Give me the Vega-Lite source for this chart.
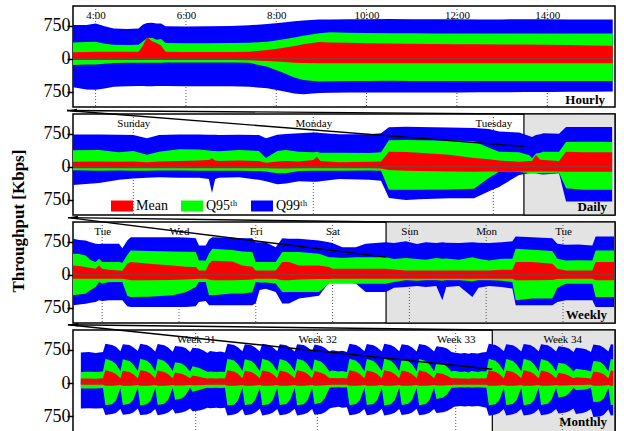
{
"$schema": "https://vega.github.io/schema/vega-lite/v6.json",
"padding": {"left": 10, "top": 4, "right": 5, "bottom": 0},
"title": {"text": "Throughput [Kbps]", "orient": "left", "anchor": "middle", "font": "Liberation Serif", "fontSize": 17, "fontWeight": "bold", "color": "#000", "offset": 14},
"spacing": 7,
"bounds": "flush",
"resolve": {"scale": {"color": "independent"}},
"config": {
  "font": "Liberation Serif",
  "view": {"stroke": "#000", "strokeWidth": 1.5},
  "title": {"font": "Liberation Serif", "fontSize": 13, "fontWeight": "bold", "color": "#000"},
  "axisX": {"ticks": false, "domain": false, "grid": false, "labelFont": "Liberation Serif", "labelFontSize": 11, "labelPadding": -12, "labelBaseline": "alphabetic", "labelColor": "#000", "labelFlush": false, "labelOverlap": false},
  "axisY": {"ticks": true, "tickSize": 6, "tickWidth": 1.5, "tickColor": "#000", "domain": false, "grid": false, "labelFont": "Liberation Serif", "labelFontSize": 18, "labelColor": "#000", "labelPadding": -3, "labelFlush": false},
  "legend": {"labelFont": "Liberation Serif", "labelFontSize": 14, "labelColor": "#000"}
},
"datasets": {
"g1": [{"t":4},{"t":6},{"t":8},{"t":10},{"t":12},{"t":14}],
"g2": [{"t":0},{"t":1},{"t":2}],
"g3": [{"t":0},{"t":1},{"t":2},{"t":3},{"t":4},{"t":5},{"t":6}],
"g4": [{"t":7.04},{"t":14.02},{"t":21.96},{"t":28.07}],
"p1": [
{"t":3.5,"b":765,"g":370,"r":145,"rd":-30,"gd":-143,"bd":-649},
{"t":3.8,"b":770,"g":380,"r":155,"rd":-30,"gd":-135,"bd":-700},
{"t":4.0,"b":800,"g":386,"r":160,"rd":-30,"gd":-130,"bd":-710},
{"t":4.2,"b":740,"g":340,"r":160,"rd":-30,"gd":-115,"bd":-680},
{"t":4.4,"b":690,"g":320,"r":158,"rd":-30,"gd":-100,"bd":-640},
{"t":4.7,"b":675,"g":311,"r":160,"rd":-30,"gd":-95,"bd":-625},
{"t":4.95,"b":690,"g":315,"r":160,"rd":-30,"gd":-90,"bd":-620},
{"t":5.05,"b":780,"g":400,"r":300,"rd":-30,"gd":-90,"bd":-620},
{"t":5.14,"b":815,"g":470,"r":486,"rd":-30,"gd":-90,"bd":-625},
{"t":5.25,"b":820,"g":477,"r":400,"rd":-30,"gd":-90,"bd":-625},
{"t":5.35,"b":800,"g":430,"r":360,"rd":-30,"gd":-90,"bd":-620},
{"t":5.45,"b":800,"g":450,"r":300,"rd":-30,"gd":-90,"bd":-620},
{"t":5.55,"b":740,"g":355,"r":160,"rd":-30,"gd":-88,"bd":-620},
{"t":6.0,"b":735,"g":350,"r":150,"rd":-30,"gd":-85,"bd":-625},
{"t":6.5,"b":738,"g":350,"r":150,"rd":-30,"gd":-85,"bd":-625},
{"t":7.0,"b":745,"g":355,"r":150,"rd":-32,"gd":-85,"bd":-625},
{"t":7.4,"b":760,"g":365,"r":160,"rd":-38,"gd":-95,"bd":-640},
{"t":7.8,"b":790,"g":386,"r":197,"rd":-50,"gd":-181,"bd":-672},
{"t":8.1,"b":820,"g":430,"r":240,"rd":-70,"gd":-300,"bd":-730},
{"t":8.4,"b":850,"g":480,"r":290,"rd":-90,"gd":-430,"bd":-790},
{"t":8.6,"b":870,"g":520,"r":330,"rd":-100,"gd":-483,"bd":-808},
{"t":8.95,"b":890,"g":577,"r":380,"rd":-104,"gd":-522,"bd":-780},
{"t":9.2,"b":895,"g":600,"r":370,"rd":-104,"gd":-515,"bd":-775},
{"t":9.6,"b":900,"g":590,"r":365,"rd":-104,"gd":-506,"bd":-772},
{"t":10.0,"b":900,"g":585,"r":350,"rd":-104,"gd":-506,"bd":-772},
{"t":10.5,"b":905,"g":580,"r":345,"rd":-104,"gd":-505,"bd":-770},
{"t":11.0,"b":900,"g":578,"r":340,"rd":-104,"gd":-506,"bd":-770},
{"t":11.5,"b":900,"g":575,"r":335,"rd":-104,"gd":-506,"bd":-768},
{"t":12.0,"b":900,"g":575,"r":330,"rd":-104,"gd":-506,"bd":-768},
{"t":12.5,"b":895,"g":575,"r":328,"rd":-104,"gd":-506,"bd":-765},
{"t":13.0,"b":895,"g":575,"r":325,"rd":-104,"gd":-506,"bd":-765},
{"t":13.5,"b":898,"g":575,"r":322,"rd":-104,"gd":-506,"bd":-760},
{"t":14.0,"b":900,"g":575,"r":320,"rd":-104,"gd":-506,"bd":-760},
{"t":14.5,"b":895,"g":575,"r":310,"rd":-104,"gd":-506,"bd":-755},
{"t":15.0,"b":890,"g":575,"r":300,"rd":-104,"gd":-506,"bd":-750},
{"t":15.45,"b":890,"g":575,"r":295,"rd":-104,"gd":-506,"bd":-749}
],
"p2": [
{"t":-0.335,"b":735,"g":377,"r":113,"rd":-36,"gd":-80,"bd":-414},
{"t":-0.19,"b":735,"g":380,"r":120,"rd":-36,"gd":-90,"bd":-370},
{"t":-0.08,"b":730,"g":330,"r":110,"rd":-36,"gd":-85,"bd":-300},
{"t":0.0,"b":720,"g":360,"r":120,"rd":-36,"gd":-90,"bd":-270},
{"t":0.076,"b":650,"g":270,"r":100,"rd":-36,"gd":-95,"bd":-250},
{"t":0.143,"b":720,"g":340,"r":120,"rd":-36,"gd":-85,"bd":-240},
{"t":0.254,"b":735,"g":400,"r":130,"rd":-36,"gd":-85,"bd":-250},
{"t":0.365,"b":735,"g":390,"r":140,"rd":-36,"gd":-90,"bd":-250},
{"t":0.42,"b":730,"g":370,"r":150,"rd":-36,"gd":-95,"bd":-280},
{"t":0.437,"b":725,"g":360,"r":190,"rd":-36,"gd":-95,"bd":-600},
{"t":0.455,"b":725,"g":360,"r":140,"rd":-36,"gd":-95,"bd":-280},
{"t":0.476,"b":720,"g":350,"r":130,"rd":-36,"gd":-95,"bd":-250},
{"t":0.587,"b":730,"g":380,"r":140,"rd":-36,"gd":-90,"bd":-240},
{"t":0.698,"b":720,"g":360,"r":130,"rd":-36,"gd":-100,"bd":-300},
{"t":0.737,"b":650,"g":200,"r":90,"rd":-36,"gd":-110,"bd":-330},
{"t":0.8,"b":730,"g":360,"r":120,"rd":-40,"gd":-150,"bd":-400},
{"t":0.848,"b":745,"g":380,"r":130,"rd":-40,"gd":-150,"bd":-380},
{"t":0.92,"b":760,"g":340,"r":120,"rd":-36,"gd":-100,"bd":-330},
{"t":1.0,"b":780,"g":330,"r":150,"rd":-36,"gd":-90,"bd":-340},
{"t":1.02,"b":780,"g":340,"r":226,"rd":-36,"gd":-90,"bd":-340},
{"t":1.04,"b":770,"g":320,"r":130,"rd":-36,"gd":-90,"bd":-330},
{"t":1.143,"b":740,"g":320,"r":100,"rd":-36,"gd":-90,"bd":-280},
{"t":1.31,"b":740,"g":310,"r":110,"rd":-36,"gd":-85,"bd":-300},
{"t":1.376,"b":760,"g":330,"r":120,"rd":-40,"gd":-90,"bd":-320},
{"t":1.42,"b":900,"g":600,"r":339,"rd":-75,"gd":-527,"bd":-715},
{"t":1.515,"b":910,"g":610,"r":335,"rd":-90,"gd":-527,"bd":-760},
{"t":1.587,"b":905,"g":605,"r":320,"rd":-100,"gd":-527,"bd":-740},
{"t":1.754,"b":895,"g":595,"r":270,"rd":-110,"gd":-520,"bd":-720},
{"t":1.893,"b":880,"g":580,"r":200,"rd":-113,"gd":-500,"bd":-720},
{"t":1.976,"b":860,"g":430,"r":170,"rd":-110,"gd":-250,"bd":-560},
{"t":2.032,"b":800,"g":339,"r":140,"rd":-113,"gd":-113,"bd":-460},
{"t":2.143,"b":780,"g":330,"r":113,"rd":-113,"gd":-120,"bd":-190},
{"t":2.2,"b":700,"g":260,"r":130,"rd":-110,"gd":-150,"bd":-150},
{"t":2.215,"b":678,"g":190,"r":130,"rd":-110,"gd":-150,"bd":-150},
{"t":2.237,"b":720,"g":300,"r":264,"rd":-110,"gd":-150,"bd":-150},
{"t":2.26,"b":740,"g":320,"r":160,"rd":-110,"gd":-150,"bd":-170},
{"t":2.28,"b":760,"g":340,"r":150,"rd":-110,"gd":-150,"bd":-180},
{"t":2.365,"b":750,"g":339,"r":130,"rd":-110,"gd":-140,"bd":-150},
{"t":2.404,"b":904,"g":565,"r":339,"rd":-113,"gd":-489,"bd":-790},
{"t":2.5,"b":905,"g":570,"r":330,"rd":-113,"gd":-527,"bd":-790},
{"t":2.587,"b":905,"g":570,"r":330,"rd":-113,"gd":-527,"bd":-790},
{"t":2.66,"b":905,"g":565,"r":330,"rd":-113,"gd":-527,"bd":-790}
],
"p3": [
{"t":-0.38,"b":818,"g":476,"r":211,"rd":-90,"gd":-468,"bd":-695},
{"t":-0.3,"b":790,"g":470,"r":200,"rd":-90,"gd":-450,"bd":-680},
{"t":-0.215,"b":779,"g":438,"r":173,"rd":-90,"gd":-431,"bd":-660},
{"t":-0.15,"b":740,"g":330,"r":150,"rd":-90,"gd":-350,"bd":-640},
{"t":-0.085,"b":703,"g":287,"r":135,"rd":-90,"gd":-280,"bd":-620},
{"t":-0.041,"b":700,"g":362,"r":211,"rd":-90,"gd":-166,"bd":-583},
{"t":0.0,"b":703,"g":290,"r":135,"rd":-90,"gd":-200,"bd":-600},
{"t":0.089,"b":703,"g":287,"r":110,"rd":-90,"gd":-166,"bd":-583},
{"t":0.219,"b":703,"g":287,"r":98,"rd":-90,"gd":-166,"bd":-583},
{"t":0.262,"b":605,"g":270,"r":90,"rd":-90,"gd":-166,"bd":-583},
{"t":0.327,"b":780,"g":450,"r":250,"rd":-110,"gd":-480,"bd":-720},
{"t":0.371,"b":854,"g":552,"r":287,"rd":-128,"gd":-506,"bd":-733},
{"t":0.61,"b":854,"g":540,"r":250,"rd":-128,"gd":-500,"bd":-733},
{"t":0.913,"b":850,"g":530,"r":210,"rd":-120,"gd":-468,"bd":-733},
{"t":1.087,"b":845,"g":520,"r":180,"rd":-110,"gd":-400,"bd":-733},
{"t":1.218,"b":830,"g":514,"r":173,"rd":-100,"gd":-279,"bd":-720},
{"t":1.26,"b":665,"g":325,"r":98,"rd":-90,"gd":-166,"bd":-620},
{"t":1.348,"b":665,"g":325,"r":98,"rd":-90,"gd":-166,"bd":-600},
{"t":1.391,"b":800,"g":480,"r":250,"rd":-110,"gd":-468,"bd":-695},
{"t":1.434,"b":854,"g":589,"r":320,"rd":-128,"gd":-468,"bd":-695},
{"t":1.694,"b":840,"g":560,"r":300,"rd":-128,"gd":-431,"bd":-695},
{"t":1.825,"b":832,"g":530,"r":211,"rd":-120,"gd":-431,"bd":-695},
{"t":1.955,"b":830,"g":514,"r":180,"rd":-110,"gd":-400,"bd":-695},
{"t":1.999,"b":741,"g":287,"r":98,"rd":-90,"gd":-166,"bd":-650},
{"t":2.05,"b":741,"g":287,"r":98,"rd":-90,"gd":-180,"bd":-350},
{"t":2.129,"b":741,"g":287,"r":98,"rd":-90,"gd":-180,"bd":-320},
{"t":2.259,"b":627,"g":287,"r":98,"rd":-90,"gd":-200,"bd":-393},
{"t":2.345,"b":832,"g":514,"r":287,"rd":-128,"gd":-393,"bd":-658},
{"t":2.432,"b":818,"g":514,"r":287,"rd":-128,"gd":-393,"bd":-658},
{"t":2.563,"b":818,"g":514,"r":211,"rd":-110,"gd":-393,"bd":-540},
{"t":2.823,"b":780,"g":476,"r":211,"rd":-100,"gd":-393,"bd":-480},
{"t":2.953,"b":741,"g":400,"r":173,"rd":-100,"gd":-204,"bd":-180},
{"t":2.996,"b":720,"g":400,"r":135,"rd":-95,"gd":-204,"bd":-166},
{"t":3.127,"b":627,"g":380,"r":135,"rd":-90,"gd":-204,"bd":-166},
{"t":3.3,"b":627,"g":400,"r":135,"rd":-90,"gd":-204,"bd":-200},
{"t":3.431,"b":703,"g":400,"r":135,"rd":-90,"gd":-204,"bd":-393},
{"t":3.691,"b":741,"g":400,"r":135,"rd":-90,"gd":-204,"bd":-393},
{"t":3.8,"b":720,"g":360,"r":120,"rd":-90,"gd":-166,"bd":-300},
{"t":3.952,"b":760,"g":380,"r":98,"rd":-90,"gd":-128,"bd":-279},
{"t":4.1,"b":700,"g":360,"r":98,"rd":-90,"gd":-140,"bd":-260},
{"t":4.212,"b":741,"g":340,"r":98,"rd":-90,"gd":-128,"bd":-279},
{"t":4.35,"b":720,"g":380,"r":98,"rd":-90,"gd":-128,"bd":-260},
{"t":4.429,"b":741,"g":362,"r":98,"rd":-90,"gd":-140,"bd":-582},
{"t":4.48,"b":730,"g":370,"r":98,"rd":-90,"gd":-128,"bd":-279},
{"t":4.646,"b":720,"g":340,"r":98,"rd":-90,"gd":-128,"bd":-260},
{"t":4.82,"b":741,"g":400,"r":98,"rd":-90,"gd":-150,"bd":-506},
{"t":4.9,"b":730,"g":362,"r":98,"rd":-90,"gd":-128,"bd":-300},
{"t":5.037,"b":720,"g":325,"r":98,"rd":-90,"gd":-128,"bd":-260},
{"t":5.2,"b":741,"g":362,"r":110,"rd":-90,"gd":-140,"bd":-279},
{"t":5.34,"b":760,"g":362,"r":110,"rd":-95,"gd":-166,"bd":-317},
{"t":5.384,"b":870,"g":589,"r":287,"rd":-128,"gd":-582,"bd":-695},
{"t":5.601,"b":850,"g":570,"r":287,"rd":-128,"gd":-544,"bd":-695},
{"t":5.861,"b":832,"g":540,"r":250,"rd":-120,"gd":-544,"bd":-695},
{"t":5.926,"b":703,"g":362,"r":135,"rd":-100,"gd":-300,"bd":-620},
{"t":6.035,"b":680,"g":325,"r":98,"rd":-90,"gd":-204,"bd":-582},
{"t":6.2,"b":690,"g":330,"r":98,"rd":-90,"gd":-204,"bd":-582},
{"t":6.382,"b":665,"g":325,"r":98,"rd":-90,"gd":-204,"bd":-582},
{"t":6.425,"b":870,"g":552,"r":287,"rd":-128,"gd":-506,"bd":-733},
{"t":6.664,"b":870,"g":552,"r":287,"rd":-128,"gd":-506,"bd":-733}
],
"p4": [
{"t":0.45,"b":690,"g":250,"r":100,"rd":-40,"gd":-127,"bd":-577},
{"t":0.9,"b":700,"g":255,"r":102,"rd":-40,"gd":-125,"bd":-570},
{"t":1.3,"b":680,"g":248,"r":98,"rd":-40,"gd":-127,"bd":-580},
{"t":1.72,"b":700,"g":260,"r":105,"rd":-40,"gd":-115,"bd":-570},
{"t":1.86,"b":886,"g":548,"r":286,"rd":-60,"gd":-502,"bd":-727},
{"t":2.24,"b":860,"g":500,"r":250,"rd":-60,"gd":-480,"bd":-700},
{"t":2.46,"b":820,"g":430,"r":205,"rd":-55,"gd":-400,"bd":-680},
{"t":2.72,"b":720,"g":270,"r":110,"rd":-45,"gd":-115,"bd":-590},
{"t":2.86,"b":880,"g":540,"r":280,"rd":-60,"gd":-500,"bd":-720},
{"t":3.24,"b":858,"g":498,"r":248,"rd":-60,"gd":-470,"bd":-700},
{"t":3.46,"b":812,"g":420,"r":200,"rd":-55,"gd":-380,"bd":-670},
{"t":3.72,"b":722,"g":270,"r":110,"rd":-45,"gd":-110,"bd":-580},
{"t":3.86,"b":886,"g":548,"r":290,"rd":-60,"gd":-510,"bd":-727},
{"t":4.24,"b":862,"g":505,"r":258,"rd":-60,"gd":-480,"bd":-712},
{"t":4.46,"b":812,"g":430,"r":210,"rd":-55,"gd":-400,"bd":-680},
{"t":4.72,"b":712,"g":268,"r":110,"rd":-45,"gd":-115,"bd":-590},
{"t":4.86,"b":882,"g":550,"r":285,"rd":-60,"gd":-500,"bd":-730},
{"t":5.24,"b":852,"g":500,"r":250,"rd":-60,"gd":-470,"bd":-700},
{"t":5.46,"b":802,"g":420,"r":200,"rd":-55,"gd":-380,"bd":-670},
{"t":5.72,"b":710,"g":270,"r":110,"rd":-45,"gd":-115,"bd":-590},
{"t":5.86,"b":840,"g":470,"r":240,"rd":-55,"gd":-380,"bd":-690},
{"t":6.24,"b":820,"g":440,"r":212,"rd":-55,"gd":-350,"bd":-670},
{"t":6.46,"b":790,"g":380,"r":172,"rd":-50,"gd":-280,"bd":-640},
{"t":6.72,"b":700,"g":262,"r":105,"rd":-45,"gd":-110,"bd":-580},
{"t":6.86,"b":800,"g":380,"r":170,"rd":-50,"gd":-200,"bd":-640},
{"t":7.24,"b":780,"g":340,"r":142,"rd":-50,"gd":-160,"bd":-620},
{"t":7.46,"b":742,"g":300,"r":120,"rd":-45,"gd":-130,"bd":-600},
{"t":7.72,"b":682,"g":250,"r":100,"rd":-40,"gd":-110,"bd":-560},
{"t":7.86,"b":722,"g":262,"r":110,"rd":-40,"gd":-115,"bd":-570},
{"t":8.24,"b":700,"g":250,"r":100,"rd":-40,"gd":-110,"bd":-560},
{"t":8.46,"b":712,"g":256,"r":105,"rd":-40,"gd":-115,"bd":-572},
{"t":8.72,"b":690,"g":250,"r":100,"rd":-40,"gd":-110,"bd":-560},
{"t":8.86,"b":886,"g":548,"r":290,"rd":-60,"gd":-510,"bd":-735},
{"t":9.24,"b":860,"g":510,"r":260,"rd":-60,"gd":-490,"bd":-715},
{"t":9.46,"b":810,"g":430,"r":210,"rd":-55,"gd":-400,"bd":-680},
{"t":9.72,"b":720,"g":270,"r":110,"rd":-45,"gd":-115,"bd":-590},
{"t":9.86,"b":880,"g":540,"r":280,"rd":-60,"gd":-500,"bd":-730},
{"t":10.24,"b":855,"g":500,"r":250,"rd":-60,"gd":-480,"bd":-705},
{"t":10.46,"b":805,"g":420,"r":200,"rd":-55,"gd":-380,"bd":-670},
{"t":10.72,"b":715,"g":265,"r":110,"rd":-45,"gd":-115,"bd":-585},
{"t":10.86,"b":886,"g":548,"r":285,"rd":-60,"gd":-505,"bd":-735},
{"t":11.24,"b":860,"g":505,"r":255,"rd":-60,"gd":-480,"bd":-710},
{"t":11.46,"b":810,"g":425,"r":205,"rd":-55,"gd":-390,"bd":-675},
{"t":11.72,"b":720,"g":270,"r":110,"rd":-45,"gd":-115,"bd":-590},
{"t":11.86,"b":880,"g":545,"r":285,"rd":-60,"gd":-500,"bd":-730},
{"t":12.24,"b":855,"g":500,"r":250,"rd":-60,"gd":-475,"bd":-705},
{"t":12.46,"b":805,"g":420,"r":200,"rd":-55,"gd":-380,"bd":-670},
{"t":12.72,"b":715,"g":265,"r":110,"rd":-45,"gd":-115,"bd":-585},
{"t":12.86,"b":880,"g":548,"r":290,"rd":-60,"gd":-505,"bd":-735},
{"t":13.24,"b":860,"g":505,"r":255,"rd":-60,"gd":-480,"bd":-710},
{"t":13.46,"b":810,"g":425,"r":205,"rd":-55,"gd":-390,"bd":-675},
{"t":13.72,"b":720,"g":270,"r":110,"rd":-45,"gd":-115,"bd":-590},
{"t":13.86,"b":870,"g":530,"r":270,"rd":-60,"gd":-480,"bd":-720},
{"t":14.24,"b":840,"g":480,"r":230,"rd":-55,"gd":-440,"bd":-700},
{"t":14.46,"b":790,"g":400,"r":190,"rd":-50,"gd":-340,"bd":-660},
{"t":14.72,"b":710,"g":260,"r":105,"rd":-45,"gd":-110,"bd":-580},
{"t":14.86,"b":742,"g":282,"r":115,"rd":-40,"gd":-100,"bd":-560},
{"t":15.24,"b":720,"g":262,"r":110,"rd":-40,"gd":-95,"bd":-540},
{"t":15.46,"b":732,"g":270,"r":112,"rd":-40,"gd":-100,"bd":-560},
{"t":15.72,"b":700,"g":250,"r":100,"rd":-40,"gd":-95,"bd":-550},
{"t":15.86,"b":886,"g":548,"r":288,"rd":-60,"gd":-505,"bd":-732},
{"t":16.24,"b":858,"g":502,"r":252,"rd":-60,"gd":-478,"bd":-708},
{"t":16.46,"b":808,"g":424,"r":204,"rd":-55,"gd":-390,"bd":-674},
{"t":16.72,"b":718,"g":268,"r":110,"rd":-45,"gd":-115,"bd":-588},
{"t":16.86,"b":882,"g":544,"r":284,"rd":-60,"gd":-500,"bd":-728},
{"t":17.24,"b":855,"g":500,"r":250,"rd":-60,"gd":-475,"bd":-705},
{"t":17.46,"b":805,"g":420,"r":200,"rd":-55,"gd":-385,"bd":-670},
{"t":17.72,"b":715,"g":266,"r":108,"rd":-45,"gd":-112,"bd":-585},
{"t":17.86,"b":886,"g":550,"r":290,"rd":-60,"gd":-508,"bd":-735},
{"t":18.24,"b":860,"g":505,"r":255,"rd":-60,"gd":-480,"bd":-710},
{"t":18.46,"b":810,"g":425,"r":205,"rd":-55,"gd":-392,"bd":-676},
{"t":18.72,"b":720,"g":270,"r":110,"rd":-45,"gd":-115,"bd":-590},
{"t":18.86,"b":880,"g":542,"r":282,"rd":-60,"gd":-498,"bd":-726},
{"t":19.24,"b":852,"g":498,"r":248,"rd":-60,"gd":-470,"bd":-702},
{"t":19.46,"b":802,"g":418,"r":198,"rd":-55,"gd":-380,"bd":-668},
{"t":19.72,"b":712,"g":264,"r":108,"rd":-45,"gd":-112,"bd":-584},
{"t":19.86,"b":884,"g":546,"r":286,"rd":-60,"gd":-502,"bd":-730},
{"t":20.24,"b":856,"g":500,"r":250,"rd":-60,"gd":-476,"bd":-706},
{"t":20.46,"b":806,"g":420,"r":200,"rd":-55,"gd":-386,"bd":-672},
{"t":20.72,"b":716,"g":266,"r":108,"rd":-45,"gd":-114,"bd":-586},
{"t":20.86,"b":830,"g":460,"r":230,"rd":-55,"gd":-360,"bd":-680},
{"t":21.24,"b":810,"g":430,"r":205,"rd":-55,"gd":-330,"bd":-660},
{"t":21.46,"b":780,"g":370,"r":165,"rd":-50,"gd":-260,"bd":-635},
{"t":21.72,"b":700,"g":262,"r":105,"rd":-45,"gd":-110,"bd":-580},
{"t":21.86,"b":690,"g":280,"r":110,"rd":-40,"gd":-105,"bd":-540},
{"t":22.24,"b":670,"g":250,"r":100,"rd":-40,"gd":-95,"bd":-520},
{"t":22.46,"b":680,"g":260,"r":100,"rd":-40,"gd":-100,"bd":-530},
{"t":22.72,"b":660,"g":240,"r":95,"rd":-40,"gd":-95,"bd":-520},
{"t":22.86,"b":680,"g":270,"r":105,"rd":-40,"gd":-100,"bd":-530},
{"t":23.24,"b":670,"g":250,"r":100,"rd":-40,"gd":-95,"bd":-520},
{"t":23.46,"b":690,"g":265,"r":105,"rd":-40,"gd":-100,"bd":-540},
{"t":23.72,"b":700,"g":260,"r":100,"rd":-40,"gd":-110,"bd":-560},
{"t":23.86,"b":886,"g":548,"r":290,"rd":-60,"gd":-505,"bd":-740},
{"t":24.24,"b":860,"g":505,"r":255,"rd":-60,"gd":-480,"bd":-715},
{"t":24.46,"b":810,"g":425,"r":205,"rd":-55,"gd":-390,"bd":-680},
{"t":24.72,"b":720,"g":270,"r":110,"rd":-45,"gd":-115,"bd":-590},
{"t":24.86,"b":880,"g":545,"r":285,"rd":-60,"gd":-500,"bd":-735},
{"t":25.24,"b":855,"g":500,"r":250,"rd":-60,"gd":-475,"bd":-710},
{"t":25.46,"b":805,"g":420,"r":200,"rd":-55,"gd":-385,"bd":-675},
{"t":25.72,"b":715,"g":266,"r":108,"rd":-45,"gd":-112,"bd":-588},
{"t":25.86,"b":884,"g":548,"r":288,"rd":-60,"gd":-505,"bd":-738},
{"t":26.24,"b":858,"g":502,"r":252,"rd":-60,"gd":-478,"bd":-712},
{"t":26.46,"b":808,"g":424,"r":204,"rd":-55,"gd":-390,"bd":-678},
{"t":26.72,"b":718,"g":268,"r":110,"rd":-45,"gd":-115,"bd":-590},
{"t":26.86,"b":880,"g":542,"r":282,"rd":-60,"gd":-498,"bd":-732},
{"t":27.24,"b":852,"g":498,"r":248,"rd":-60,"gd":-470,"bd":-706},
{"t":27.46,"b":802,"g":418,"r":198,"rd":-55,"gd":-380,"bd":-672},
{"t":27.72,"b":712,"g":264,"r":108,"rd":-45,"gd":-112,"bd":-586},
{"t":27.86,"b":830,"g":460,"r":230,"rd":-55,"gd":-330,"bd":-690},
{"t":28.24,"b":810,"g":430,"r":205,"rd":-55,"gd":-300,"bd":-670},
{"t":28.46,"b":780,"g":370,"r":165,"rd":-50,"gd":-240,"bd":-640},
{"t":28.72,"b":700,"g":262,"r":105,"rd":-45,"gd":-110,"bd":-580},
{"t":28.86,"b":800,"g":320,"r":130,"rd":-45,"gd":-160,"bd":-700},
{"t":29.24,"b":780,"g":300,"r":120,"rd":-45,"gd":-150,"bd":-680},
{"t":29.46,"b":760,"g":290,"r":115,"rd":-40,"gd":-140,"bd":-650},
{"t":29.72,"b":700,"g":260,"r":100,"rd":-40,"gd":-110,"bd":-590},
{"t":29.86,"b":870,"g":500,"r":260,"rd":-60,"gd":-430,"bd":-770},
{"t":30.24,"b":850,"g":480,"r":240,"rd":-60,"gd":-420,"bd":-760},
{"t":30.46,"b":800,"g":410,"r":200,"rd":-55,"gd":-350,"bd":-720},
{"t":30.72,"b":715,"g":266,"r":108,"rd":-45,"gd":-115,"bd":-600},
{"t":30.86,"b":880,"g":545,"r":285,"rd":-60,"gd":-500,"bd":-735},
{"t":31.0,"b":870,"g":530,"r":270,"rd":-60,"gd":-490,"bd":-730}
]
},
"vconcat": [
{
"width": 542, "height": 101,
"title": {"text": "Hourly", "orient": "bottom", "anchor": "end", "frame": "group", "baseline": "alphabetic", "offset": -4, "dx": -10},
"data": {"name": "p1"},
"encoding": {"x": {"field": "t", "type": "quantitative", "title": null, "scale": {"domain": [3.5, 15.5], "nice": false, "zero": false}, "axis": {"orient": "top", "zindex": 1, "values": [4,6,8,10,12,14], "labelExpr": "datum.value + ':00'"}}},
"layer": [
{"data": {"name": "g1"}, "mark": {"type": "rule", "color": "#555", "strokeDash": [1,2], "strokeWidth": 1}, "encoding": {}},
{"mark": {"type": "area", "color": "#0000ff"}, "encoding": {"y": {"field": "b", "type": "quantitative", "title": null, "scale": {"domain": [-1100, 1200], "nice": false, "zero": false}, "axis": {"values": [-750, 0, 750], "labelExpr": "abs(datum.value)"}}, "y2": {"datum": 0}}},
{"mark": {"type": "area", "color": "#00ff00"}, "encoding": {"y": {"field": "g", "type": "quantitative", "title": null, "scale": {"domain": [-1100, 1200], "nice": false, "zero": false}}, "y2": {"datum": 0}}},
{"mark": {"type": "area", "color": "#ff0000"}, "encoding": {"y": {"field": "r", "type": "quantitative", "title": null, "scale": {"domain": [-1100, 1200], "nice": false, "zero": false}}, "y2": {"datum": 0}}},
{"mark": {"type": "area", "color": "#0000ff"}, "encoding": {"y": {"field": "bd", "type": "quantitative", "title": null, "scale": {"domain": [-1100, 1200], "nice": false, "zero": false}}, "y2": {"datum": 0}}},
{"mark": {"type": "area", "color": "#00ff00"}, "encoding": {"y": {"field": "gd", "type": "quantitative", "title": null, "scale": {"domain": [-1100, 1200], "nice": false, "zero": false}}, "y2": {"datum": 0}}},
{"mark": {"type": "area", "color": "#ff0000"}, "encoding": {"y": {"field": "rd", "type": "quantitative", "title": null, "scale": {"domain": [-1100, 1200], "nice": false, "zero": false}}, "y2": {"datum": 0}}},
{"mark": {"type": "rule", "color": "#993333", "strokeWidth": 1}, "encoding": {"x": {"aggregate": "min", "field": "t", "type": "quantitative", "title": null, "scale": {"domain": [3.5, 15.5], "nice": false, "zero": false}}, "x2": {"aggregate": "max", "field": "t"}, "y": {"datum": 0, "title": null, "scale": {"domain": [-1100, 1200], "nice": false, "zero": false}}}}
]
},
{
"width": 542, "height": 101,
"title": {"text": "Daily", "orient": "bottom", "anchor": "end", "frame": "group", "baseline": "alphabetic", "offset": -5, "dx": -8},
"data": {"name": "p2"},
"encoding": {"x": {"field": "t", "type": "quantitative", "title": null, "scale": {"domain": [-0.335, 2.676], "nice": false, "zero": false}, "axis": {"orient": "top", "zindex": 1, "values": [0,1,2], "labelExpr": "['Sunday','Monday','Tuesday'][datum.value]"}}},
"layer": [
{"data": {"values": [{"t": 2.17, "t2": 2.676}]}, "mark": {"type": "rect", "fill": "#dcdcdc", "fillOpacity": 0.8, "stroke": "#000", "strokeWidth": 1.2}, "encoding": {"x2": {"field": "t2"}}},
{"data": {"name": "g2"}, "mark": {"type": "rule", "color": "#555", "strokeDash": [1,2], "strokeWidth": 1}, "encoding": {}},
{"mark": {"type": "area"}, "encoding": {"y": {"field": "b", "type": "quantitative", "title": null, "scale": {"domain": [-1100, 1200], "nice": false, "zero": false}, "axis": {"values": [-750, 0, 750], "labelExpr": "abs(datum.value)"}}, "y2": {"datum": 0}, "color": {"datum": "Q99ᵗʰ", "scale": {"domain": ["Mean", "Q95ᵗʰ", "Q99ᵗʰ"], "range": ["#ff0000", "#00ff00", "#0000ff"]}, "legend": {"orient": "none", "legendX": 38, "legendY": 81, "direction": "horizontal", "title": null, "symbolType": "M-1,-0.5H1V0.5H-1Z", "symbolSize": 484, "symbolStrokeWidth": 0, "symbolOpacity": 1, "labelOffset": 3, "columnPadding": 13}}}},
{"mark": {"type": "area"}, "encoding": {"y": {"field": "g", "type": "quantitative", "title": null, "scale": {"domain": [-1100, 1200], "nice": false, "zero": false}}, "y2": {"datum": 0}, "color": {"datum": "Q95ᵗʰ"}}},
{"mark": {"type": "area"}, "encoding": {"y": {"field": "r", "type": "quantitative", "title": null, "scale": {"domain": [-1100, 1200], "nice": false, "zero": false}}, "y2": {"datum": 0}, "color": {"datum": "Mean"}}},
{"mark": {"type": "area"}, "encoding": {"y": {"field": "bd", "type": "quantitative", "title": null, "scale": {"domain": [-1100, 1200], "nice": false, "zero": false}}, "y2": {"datum": 0}, "color": {"datum": "Q99ᵗʰ"}}},
{"mark": {"type": "area"}, "encoding": {"y": {"field": "gd", "type": "quantitative", "title": null, "scale": {"domain": [-1100, 1200], "nice": false, "zero": false}}, "y2": {"datum": 0}, "color": {"datum": "Q95ᵗʰ"}}},
{"mark": {"type": "area"}, "encoding": {"y": {"field": "rd", "type": "quantitative", "title": null, "scale": {"domain": [-1100, 1200], "nice": false, "zero": false}}, "y2": {"datum": 0}, "color": {"datum": "Mean"}}},
{"mark": {"type": "rule", "color": "#993333", "strokeWidth": 1}, "encoding": {"x": {"aggregate": "min", "field": "t", "type": "quantitative", "title": null, "scale": {"domain": [-0.335, 2.676], "nice": false, "zero": false}}, "x2": {"aggregate": "max", "field": "t"}, "y": {"datum": 0, "title": null, "scale": {"domain": [-1100, 1200], "nice": false, "zero": false}}}},
{"data": {"values": [{"t": 2.17, "ya": 1200, "t2": -0.368, "yb": 1280}, {"t": 2.17, "ya": 460, "t2": -0.368, "yb": 1280}]}, "mark": {"type": "rule", "color": "#000", "strokeWidth": 1.4}, "encoding": {"x2": {"field": "t2"}, "y": {"field": "ya", "type": "quantitative", "title": null, "scale": {"domain": [-1100, 1200], "nice": false, "zero": false}}, "y2": {"field": "yb"}}},
{"data": {"values": [{"t": -0.368, "ya": 1280}]}, "mark": {"type": "point", "shape": "M0,0L2,-0.35L2,0.35Z", "size": 100, "filled": true, "color": "#000", "opacity": 1}, "encoding": {"y": {"field": "ya", "type": "quantitative", "title": null, "scale": {"domain": [-1100, 1200], "nice": false, "zero": false}}}}
]
},
{
"width": 542, "height": 101,
"title": {"text": "Weekly", "orient": "bottom", "anchor": "end", "frame": "group", "baseline": "alphabetic", "offset": -5, "dx": -8},
"data": {"name": "p3"},
"encoding": {"x": {"field": "t", "type": "quantitative", "title": null, "scale": {"domain": [-0.38, 6.677], "nice": false, "zero": false}, "axis": {"orient": "top", "zindex": 1, "values": [0,1,2,3,4,5,6], "labelExpr": "['Tue','Wed','Fri','Sat','Sun','Mon','Tue'][datum.value]"}}},
"layer": [
{"data": {"values": [{"t": 3.696, "t2": 6.677}]}, "mark": {"type": "rect", "fill": "#dcdcdc", "fillOpacity": 0.8, "stroke": "#000", "strokeWidth": 1.2}, "encoding": {"x2": {"field": "t2"}}},
{"data": {"name": "g3"}, "mark": {"type": "rule", "color": "#555", "strokeDash": [1,2], "strokeWidth": 1}, "encoding": {}},
{"mark": {"type": "area", "color": "#0000ff"}, "encoding": {"y": {"field": "b", "type": "quantitative", "title": null, "scale": {"domain": [-1100, 1200], "nice": false, "zero": false}, "axis": {"values": [-750, 0, 750], "labelExpr": "abs(datum.value)"}}, "y2": {"datum": 0}}},
{"mark": {"type": "area", "color": "#00ff00"}, "encoding": {"y": {"field": "g", "type": "quantitative", "title": null, "scale": {"domain": [-1100, 1200], "nice": false, "zero": false}}, "y2": {"datum": 0}}},
{"mark": {"type": "area", "color": "#ff0000"}, "encoding": {"y": {"field": "r", "type": "quantitative", "title": null, "scale": {"domain": [-1100, 1200], "nice": false, "zero": false}}, "y2": {"datum": 0}}},
{"mark": {"type": "area", "color": "#0000ff"}, "encoding": {"y": {"field": "bd", "type": "quantitative", "title": null, "scale": {"domain": [-1100, 1200], "nice": false, "zero": false}}, "y2": {"datum": 0}}},
{"mark": {"type": "area", "color": "#00ff00"}, "encoding": {"y": {"field": "gd", "type": "quantitative", "title": null, "scale": {"domain": [-1100, 1200], "nice": false, "zero": false}}, "y2": {"datum": 0}}},
{"mark": {"type": "area", "color": "#ff0000"}, "encoding": {"y": {"field": "rd", "type": "quantitative", "title": null, "scale": {"domain": [-1100, 1200], "nice": false, "zero": false}}, "y2": {"datum": 0}}},
{"mark": {"type": "rule", "color": "#993333", "strokeWidth": 1}, "encoding": {"x": {"aggregate": "min", "field": "t", "type": "quantitative", "title": null, "scale": {"domain": [-0.38, 6.677], "nice": false, "zero": false}}, "x2": {"aggregate": "max", "field": "t"}, "y": {"datum": 0, "title": null, "scale": {"domain": [-1100, 1200], "nice": false, "zero": false}}}},
{"data": {"values": [{"t": 3.696, "ya": 1200, "t2": -0.445, "yb": 1300}, {"t": 3.696, "ya": 400, "t2": -0.445, "yb": 1300}]}, "mark": {"type": "rule", "color": "#000", "strokeWidth": 1.4}, "encoding": {"x2": {"field": "t2"}, "y": {"field": "ya", "type": "quantitative", "title": null, "scale": {"domain": [-1100, 1200], "nice": false, "zero": false}}, "y2": {"field": "yb"}}},
{"data": {"values": [{"t": -0.445, "ya": 1300}]}, "mark": {"type": "point", "shape": "M0,0L2,-0.35L2,0.35Z", "size": 100, "filled": true, "color": "#000", "opacity": 1}, "encoding": {"y": {"field": "ya", "type": "quantitative", "title": null, "scale": {"domain": [-1100, 1200], "nice": false, "zero": false}}}}
]
},
{
"width": 542, "height": 106,
"title": {"text": "Monthly", "orient": "bottom", "anchor": "end", "frame": "group", "baseline": "alphabetic", "offset": -11, "dx": -8},
"data": {"name": "p4"},
"encoding": {"x": {"field": "t", "type": "quantitative", "title": null, "scale": {"domain": [0, 31.1], "nice": false, "zero": false}, "axis": {"orient": "top", "zindex": 1, "values": [7.04, 14.02, 21.96, 28.07], "labelExpr": "datum.value < 10 ? 'Week 31' : datum.value < 17 ? 'Week 32' : datum.value < 25 ? 'Week 33' : 'Week 34'"}}},
"layer": [
{"data": {"values": [{"t": 24.06, "t2": 31.1}]}, "mark": {"type": "rect", "fill": "#dcdcdc", "fillOpacity": 0.8, "stroke": "#000", "strokeWidth": 1.2}, "encoding": {"x2": {"field": "t2"}}},
{"data": {"name": "g4"}, "mark": {"type": "rule", "color": "#555", "strokeDash": [1,2], "strokeWidth": 1}, "encoding": {}},
{"mark": {"type": "area", "color": "#0000ff"}, "encoding": {"y": {"field": "b", "type": "quantitative", "title": null, "scale": {"domain": [-1200, 1200], "nice": false, "zero": false}, "axis": {"values": [-750, 0, 750], "labelExpr": "abs(datum.value)"}}, "y2": {"datum": 0}}},
{"mark": {"type": "area", "color": "#00ff00"}, "encoding": {"y": {"field": "g", "type": "quantitative", "title": null, "scale": {"domain": [-1200, 1200], "nice": false, "zero": false}}, "y2": {"datum": 0}}},
{"mark": {"type": "area", "color": "#ff0000"}, "encoding": {"y": {"field": "r", "type": "quantitative", "title": null, "scale": {"domain": [-1200, 1200], "nice": false, "zero": false}}, "y2": {"datum": 0}}},
{"mark": {"type": "area", "color": "#0000ff"}, "encoding": {"y": {"field": "bd", "type": "quantitative", "title": null, "scale": {"domain": [-1200, 1200], "nice": false, "zero": false}}, "y2": {"datum": 0}}},
{"mark": {"type": "area", "color": "#00ff00"}, "encoding": {"y": {"field": "gd", "type": "quantitative", "title": null, "scale": {"domain": [-1200, 1200], "nice": false, "zero": false}}, "y2": {"datum": 0}}},
{"mark": {"type": "area", "color": "#ff0000"}, "encoding": {"y": {"field": "rd", "type": "quantitative", "title": null, "scale": {"domain": [-1200, 1200], "nice": false, "zero": false}}, "y2": {"datum": 0}}},
{"mark": {"type": "rule", "color": "#993333", "strokeWidth": 1}, "encoding": {"x": {"aggregate": "min", "field": "t", "type": "quantitative", "title": null, "scale": {"domain": [0, 31.1], "nice": false, "zero": false}}, "x2": {"aggregate": "max", "field": "t"}, "y": {"datum": 0, "title": null, "scale": {"domain": [-1200, 1200], "nice": false, "zero": false}}}},
{"data": {"values": [{"t": 24.06, "ya": 1200, "t2": -0.29, "yb": 1320}, {"t": 24.06, "ya": 310, "t2": -0.29, "yb": 1320}]}, "mark": {"type": "rule", "color": "#000", "strokeWidth": 1.4}, "encoding": {"x2": {"field": "t2"}, "y": {"field": "ya", "type": "quantitative", "title": null, "scale": {"domain": [-1200, 1200], "nice": false, "zero": false}}, "y2": {"field": "yb"}}},
{"data": {"values": [{"t": -0.29, "ya": 1320}]}, "mark": {"type": "point", "shape": "M0,0L2,-0.35L2,0.35Z", "size": 100, "filled": true, "color": "#000", "opacity": 1}, "encoding": {"y": {"field": "ya", "type": "quantitative", "title": null, "scale": {"domain": [-1200, 1200], "nice": false, "zero": false}}}}
]
}
]
}
